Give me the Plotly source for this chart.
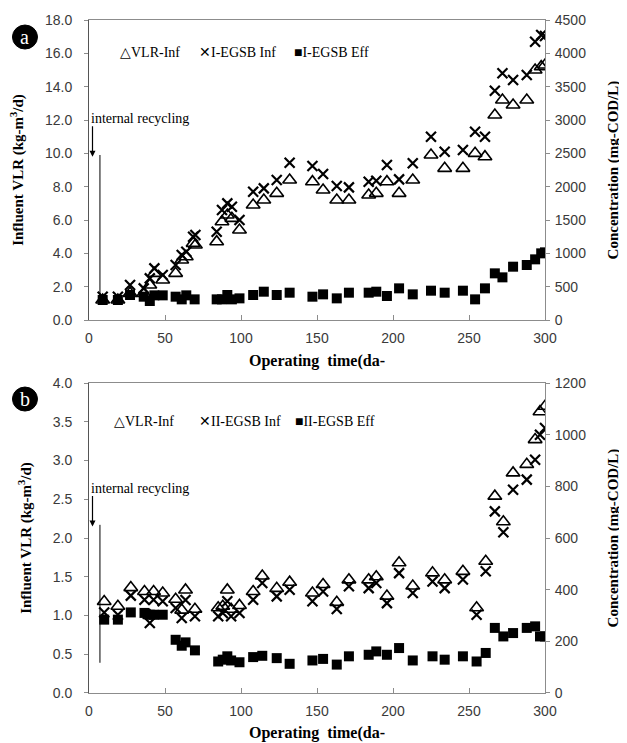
import plotly.graph_objects as go
from plotly.subplots import make_subplots

# ---------------- Panel a data ----------------
days_a = [9, 19, 27, 36, 40, 43, 48.5, 57, 61, 64, 68.5, 70, 84, 87.5, 91, 94, 99, 108, 115, 123.5,
          132, 147, 154, 163, 171, 184, 189, 196, 204, 213, 225, 234, 246, 254, 260.5, 267, 272, 279,
          288, 293.5, 297.5, 300]
vlr_a = [1.2, 1.2, 1.6, 1.6, 2.1, 2.8, 2.4, 2.8, 3.6, 3.8, 4.6, 4.5, 4.7, 5.9, 6.3, 6.1, 5.4, 6.9, 7.2, 7.6,
         8.4, 8.3, 7.8, 7.2, 7.2, 7.5, 7.6, 8.3, 7.6, 8.4, 9.9, 9.1, 9.1, 10.0, 9.8, 12.3, 13.2, 12.9,
         13.2, 15.0, 15.2, 15.3]
inf_a = [350, 350, 525, 475, 625, 775, 675, 825, 975, 1025, 1250, 1275, 1325, 1650, 1750, 1700, 1500,
         1925, 1975, 2100, 2360, 2310, 2190, 2010, 1990, 2075, 2090, 2325, 2110, 2350, 2750, 2525, 2550,
         2825, 2750, 3440, 3700, 3600, 3675, 4175, 4275, 4260]
days_a_eff = [9, 19, 27, 36, 40, 43, 48.5, 57, 61, 64, 69.5, 84, 87.5, 91, 94, 99, 108, 115, 123.5, 132,
              147, 154, 163, 171, 184, 189, 196, 204, 213, 225, 234, 246, 254, 260.5, 267, 272, 279, 288,
              293.5, 297.5, 300]
eff_a = [300, 300, 375, 350, 285, 370, 370, 350, 310, 370, 310, 310, 310, 375, 310, 325, 375, 425, 375,
         410, 350, 385, 325, 410, 410, 425, 360, 475, 385, 440, 410, 440, 310, 475, 700, 640, 800, 825,
         910, 1000, 1015]

# ---------------- Panel b data ----------------
days_b = [10, 19, 27.5, 36.5, 40, 42.5, 48.5, 57, 61, 63.5, 69.7, 85, 88, 91, 93.5, 99, 108, 114, 123.5,
          132, 147, 154, 163, 171, 184, 189, 196, 204, 213, 226, 234, 246, 255, 261, 267, 272.6, 279, 288,
          293.5, 296.7, 300]
vlr_b = [1.18, 1.12, 1.36, 1.31, 1.00, 1.31, 1.29, 1.21, 1.07, 1.33, 1.08, 1.10, 1.12, 1.33, 1.08, 1.13,
         1.31, 1.51, 1.35, 1.43, 1.29, 1.40, 1.17, 1.46, 1.46, 1.50, 1.25, 1.68, 1.38, 1.55, 1.46, 1.57,
         1.10, 1.70, 2.54, 2.21, 2.84, 2.95, 3.27, 3.63, 3.70]
inf_b = [312, 303, 377, 361, 271, 361, 355, 329, 290, 360, 297, 297, 310, 355, 297, 310, 361, 426, 374,
         400, 355, 393, 325, 413, 406, 426, 348, 464, 387, 432, 406, 439, 303, 471, 703, 622, 787, 826,
         903, 1000, 1026]
eff_b = [284, 284, 312, 310, 303, 303, 303, 206, 183, 196, 165, 122, 129, 142, 126, 119, 139, 144, 135,
         113, 126, 132, 110, 142, 148, 161, 148, 174, 126, 142, 129, 142, 122, 155, 252, 219, 232, 252,
         258, 219, 219]

x_ticks = [0, 50, 100, 150, 200, 250, 300]
names_a = ["VLR-Inf", "I-EGSB Inf", "I-EGSB Eff"]
names_b = ["VLR-Inf", "II-EGSB Inf", "II-EGSB Eff"]

SERIF = "Liberation Serif"
SANS = "Liberation Sans"
AXC = "#8c8c8c"
TICKC = "#3a3a3a"

fig = make_subplots(rows=2, cols=1, specs=[[{"secondary_y": True}], [{"secondary_y": True}]])

tri = dict(symbol="triangle-up-open", size=12, color="black", line=dict(width=1.6, color="black"))
xm = dict(symbol="x-thin-open", size=10, color="black", line=dict(width=2.2, color="black"))
sq = dict(symbol="square", size=10, color="black", line=dict(width=0))

for row, (d, v, inf, de, eff, nm) in enumerate([
        (days_a, vlr_a, inf_a, days_a_eff, eff_a, names_a),
        (days_b, vlr_b, inf_b, days_b, eff_b, names_b)], start=1):
    fig.add_trace(go.Scatter(x=d, y=v, mode="markers", marker=tri, name=nm[0], showlegend=False),
                  row=row, col=1, secondary_y=False)
    fig.add_trace(go.Scatter(x=d, y=inf, mode="markers", marker=xm, name=nm[1], showlegend=False),
                  row=row, col=1, secondary_y=True)
    fig.add_trace(go.Scatter(x=de, y=eff, mode="markers", marker=sq, name=nm[2], showlegend=False),
                  row=row, col=1, secondary_y=True)

tickfont = dict(family=SANS, size=14, color=TICKC)
titlefont = dict(family=SERIF, size=15, color="black", weight="bold")

xcommon = dict(range=[0, 300], tickvals=x_ticks, showline=True, linecolor=AXC, linewidth=1,
               mirror=True, ticks="inside", ticklen=5, tickcolor=AXC, showgrid=False, zeroline=False,
               tickfont=tickfont, automargin=False, ticklabelstandoff=5,
               title=dict(text="Operating  time(da-", font=dict(family=SERIF, size=16, color="black",
                                                                weight="bold"), standoff=9))

ycommon_l = dict(showline=True, linecolor="#555555", ticks="outside", ticklen=4, tickcolor=AXC,
                 showgrid=False, zeroline=False, tickfont=tickfont, automargin=False, ticklabelstandoff=9)
ycommon_r = dict(showline=True, linecolor=AXC, ticks="outside", ticklen=4, tickcolor=AXC,
                 showgrid=False, zeroline=False, tickfont=tickfont, automargin=False, ticklabelstandoff=2)

dom_a = [0.5542, 1.0]
dom_b = [0.0, 0.4606]
fig.update_layout(
    xaxis=dict(xcommon, anchor="y", domain=[0, 1]),
    xaxis2=dict(xcommon, anchor="y3", domain=[0, 1]),
    yaxis=dict(ycommon_l, domain=dom_a, range=[0, 18], dtick=2, tickformat=".1f",
               title=dict(text="Influent VLR (kg-m<sup>3</sup>/d)", font=titlefont, standoff=17)),
    yaxis2=dict(ycommon_r, domain=dom_a, range=[0, 4500], dtick=500,
                title=dict(text="Concentration (mg-COD/L)", font=titlefont, standoff=22)),
    yaxis3=dict(ycommon_l, domain=dom_b, range=[0, 4], dtick=0.5, tickformat=".1f",
                title=dict(text="Influent VLR (kg-m<sup>3</sup>/d)", font=titlefont, standoff=17)),
    yaxis4=dict(ycommon_r, domain=dom_b, range=[0, 1200], dtick=200,
                title=dict(text="Concentration (mg-COD/L)", font=titlefont, standoff=22)),
    # the page body has an 8px default margin, so the figure is sized/offset to compensate
    width=619, height=735,
    margin=dict(l=81, r=82, t=12, b=50, autoexpand=False),
    paper_bgcolor="white", plot_bgcolor="white",
    showlegend=False,
)

ann = []
shapes = []
# legend-like text rows inside each panel
leg_font = dict(family=SERIF, size=14, color="black")
for (xr, yr, yv, xs, labels) in [("x", "y", 16.08, [19, 71, 133.5], names_a),
                                 ("x2", "y3", 3.50, [15, 71, 134], names_b)]:
    sym = ["△", "✕", "■"]
    for xi, s, lab in zip(xs, sym, labels):
        ann.append(dict(x=xi, y=yv, xref=xr, yref=yr, text=s + lab, showarrow=False, xanchor="left",
                        yanchor="middle", font=leg_font))

# internal recycling text, arrows and vertical markers
for (xr, yr, ytxt, yhead, yline) in [("x", "y", 12.1, 9.8, (1.5, 9.9)),
                                     ("x2", "y3", 2.645, 2.15, (0.39, 2.17))]:
    ann.append(dict(x=0.3, y=ytxt, xref=xr, yref=yr, text="internal recycling", showarrow=False,
                    xanchor="left", yanchor="middle", font=dict(family=SERIF, size=14, color="black")))
    ann.append(dict(x=2.3, y=yhead, xref=xr, yref=yr, text="", showarrow=True, arrowhead=2,
                    arrowsize=1, arrowwidth=1.2, arrowcolor="black", ax=0, ay=-32))
    shapes.append(dict(type="line", xref=xr, yref=yr, x0=7.2, x1=7.2, y0=yline[0], y1=yline[1],
                       line=dict(color="black", width=1)))

# panel badges
for lab, yc in [("a", 0.9747), ("b", 0.4368)]:
    shapes.append(dict(type="circle", xref="paper", yref="paper", xsizemode="pixel", ysizemode="pixel",
                       xanchor=-0.1404, yanchor=yc, x0=-12.5, x1=12.5, y0=-12, y1=12,
                       fillcolor="black", line=dict(color="black", width=1)))
    ann.append(dict(x=-0.1404, y=yc, xref="paper", yref="paper", text=lab, showarrow=False,
                    xanchor="center", yanchor="middle",
                    font=dict(family=SERIF, size=20, color="white")))

fig.update_layout(annotations=ann, shapes=shapes)
fig.write_html("out.html")
